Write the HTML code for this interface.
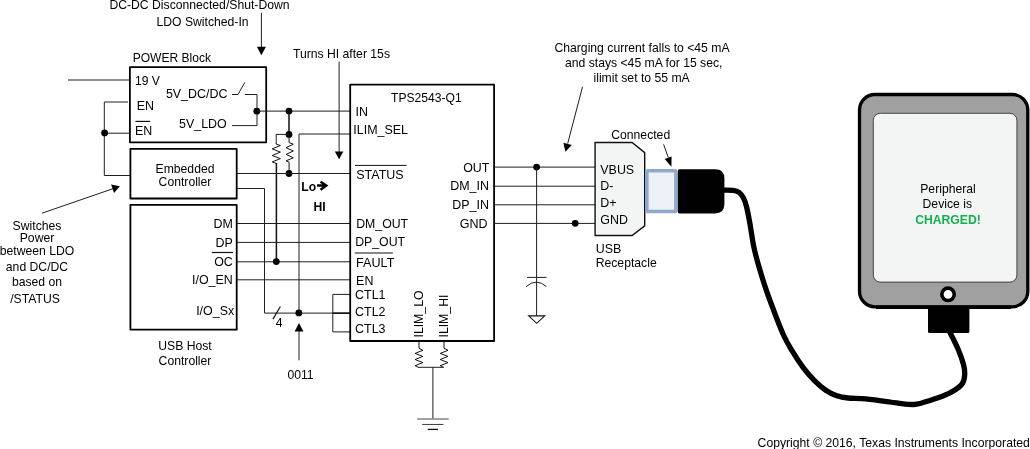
<!DOCTYPE html>
<html>
<head>
<meta charset="utf-8">
<title>TPS2543-Q1 Charging Diagram</title>
<style>
  html, body { margin: 0; padding: 0; background: #ffffff; }
  body { width: 1030px; height: 449px; overflow: hidden; }
  svg { display: block; will-change: transform; opacity: 0.9999; }
  text { font-family: "Liberation Sans", sans-serif; font-size: 12.2px; fill: #000; }
  .b { font-weight: bold; }
  .u { font-size: 12.45px; }
  .w { stroke: #1e1e1e; stroke-width: 1; fill: none; }
  .k { stroke: #111; stroke-width: 1.6; fill: none; }
  .box { stroke: #000; stroke-width: 1.8; fill: none; stroke-linejoin: round; }
  .dot { fill: #000; }
  .ah { fill: #000; }
</style>
</head>
<body>
<svg width="1030" height="449" viewBox="0 0 1030 449">
  <rect x="0" y="0" width="1030" height="449" fill="#ffffff"/>

  <!-- ===== top-left annotation ===== -->
  <text x="199.5" y="9.3" text-anchor="middle">DC-DC Disconnected/Shut-Down</text>
  <text x="202.5" y="26" text-anchor="middle">LDO Switched-In</text>
  <line class="w" x1="261.4" y1="12.8" x2="261.4" y2="48"/>
  <polygon class="ah" points="256.9,46.8 265.9,46.8 261.4,55.2"/>

  <!-- ===== POWER block ===== -->
  <text x="132.7" y="62.1" style="font-size:12.05px">POWER Block</text>
  <rect class="box" x="129.9" y="67.2" width="136.3" height="75.1"/>
  <line class="w" x1="68" y1="80" x2="130" y2="80"/>
  <text x="135" y="84.8" style="font-size:12.1px">19 V</text>
  <text class="u" x="136.8" y="110">EN</text>
  <text class="u" x="135" y="135">EN</text>
  <line class="k" x1="135.5" y1="121.4" x2="150.2" y2="121.4" style="stroke-width:1.2"/>
  <text class="u" x="165.9" y="98">5V_DC/DC</text>
  <text class="u" x="179" y="127.9">5V_LDO</text>
  <!-- switch -->
  <polyline class="w" points="232,94.5 238,94.5 244.8,82.4"/>
  <polyline class="w" points="244.8,94.5 257,94.5 257,125.6 232,125.6"/>
  <circle class="dot" cx="256.8" cy="111.2" r="3.4"/>

  <!-- EN loop -->
  <polyline class="w" points="128,102 104.3,102 104.3,175.5 130,175.5"/>
  <line class="w" x1="104.3" y1="133.2" x2="130" y2="133.2"/>
  <circle class="dot" cx="104.6" cy="132.9" r="3.4"/>

  <!-- ===== Embedded controller ===== -->
  <rect class="box" x="130.4" y="148.9" width="106.3" height="49.6"/>
  <text x="185" y="172.9" text-anchor="middle">Embedded</text>
  <text x="185" y="185.6" text-anchor="middle">Controller</text>

  <!-- ===== USB host controller ===== -->
  <rect class="box" x="130.4" y="204.8" width="106.3" height="124.9"/>
  <text class="u" x="232.8" y="227.8" text-anchor="end">DM</text>
  <text class="u" x="232.8" y="246.7" text-anchor="end">DP</text>
  <text class="u" x="232.8" y="266.2" text-anchor="end">OC</text>
  <line class="k" x1="211.8" y1="252.5" x2="233" y2="252.5" style="stroke-width:1.2"/>
  <text class="u" x="232.8" y="284.1" text-anchor="end">I/O_EN</text>
  <text class="u" x="234.2" y="314.8" text-anchor="end">I/O_Sx</text>
  <text x="185" y="350" text-anchor="middle">USB Host</text>
  <text x="185" y="365.1" text-anchor="middle">Controller</text>

  <!-- left annotation -->
  <text x="37" y="229.5" text-anchor="middle">Switches</text>
  <text x="37" y="242" text-anchor="middle">Power</text>
  <text x="37" y="254.8" text-anchor="middle">between LDO</text>
  <text x="37" y="270.7" text-anchor="middle">and DC/DC</text>
  <text x="37" y="285.8" text-anchor="middle">based on</text>
  <text x="35" y="302.6" text-anchor="middle">/STATUS</text>
  <line class="w" x1="42" y1="213.2" x2="113" y2="188.7"/>
  <polygon class="ah" points="119.9,186.2 111.1,184.6 114,193"/>

  <!-- ===== wires between left blocks and TPS ===== -->
  <line class="w" x1="257" y1="111.1" x2="350.5" y2="111.1"/>
  <circle class="dot" cx="289" cy="111.1" r="3.4"/>
  <line class="k" x1="289" y1="111.1" x2="289" y2="134.4" style="stroke-width:1.5"/>
  <circle class="dot" cx="289" cy="134.4" r="3.4"/>
  <!-- resistors -->
  <polyline class="w" points="289,134.4 276.2,134.4 276.2,144"/>
  <polyline class="k" style="stroke-width:1" points="276.3,143.5 276.3,144.2 280.4,145.5 272.2,148.9 280.4,152.1 272.2,155.5 280.4,158.6 272.2,161.9 276.3,163.4"/>
  <line class="k" x1="276.4" y1="163" x2="276.4" y2="261.4" style="stroke-width:1.5"/>
  <polyline class="k" style="stroke-width:1" points="289.1,134.4 289.1,142.6 293.3,144.2 286.1,147.7 293.3,151 286.1,154.4 293.3,157.8 286.1,160.8 289.1,162.2 289.1,173.5"/>
  <circle class="dot" cx="289" cy="173.5" r="3.4"/>

  <!-- ILIM_SEL -->
  <polyline class="w" points="350.5,134 299,134 299,313.1"/>
  <!-- STATUS -->
  <line class="w" x1="236.8" y1="173.5" x2="350.5" y2="173.5"/>
  <!-- Embedded 2nd output -->
  <polyline class="w" points="236.8,188.5 264.5,188.5 264.5,313.1 350.5,313.1"/>
  <!-- DM DP OC EN -->
  <line class="w" x1="236.8" y1="223.5" x2="350.5" y2="223.5"/>
  <line class="w" x1="236.8" y1="242.4" x2="350.5" y2="242.4"/>
  <line class="w" x1="236.8" y1="261.8" x2="350.5" y2="261.8"/>
  <line class="w" x1="236.8" y1="279.8" x2="350.5" y2="279.8"/>
  <circle class="dot" cx="276.3" cy="261.6" r="3.4"/>
  <circle class="dot" cx="298.8" cy="312.9" r="3.4"/>
  <!-- CTL bracket -->
  <polyline class="w" points="350.5,294.4 332.8,294.4 332.8,331.9 350.5,331.9"/>
  <line class="k" x1="332.8" y1="313.2" x2="350" y2="313.2" style="stroke-width:1.5"/>
  <!-- bus slash /4 -->
  <line class="k" x1="272.9" y1="319.1" x2="280.4" y2="306.5" style="stroke-width:1.2"/>
  <text x="275.7" y="327.2">4</text>
  <!-- 0011 arrow -->
  <line class="w" x1="299" y1="330" x2="299" y2="360.3"/>
  <polygon class="ah" points="299,323.1 294.6,331.5 303.4,331.5"/>
  <text x="300.5" y="379" text-anchor="middle">0011</text>

  <!-- Turns HI -->
  <text x="292.9" y="57.8">Turns HI after 15s</text>
  <line class="w" x1="339.1" y1="61.6" x2="339.1" y2="152"/>
  <polygon class="ah" points="334.8,151.6 343.4,151.6 339.1,159.2"/>
  <text class="b" x="301.3" y="190.9">Lo</text>
  <path d="M317,185.5 H325 M320.5,181.8 L326.4,185.5 L320.5,189.8" stroke="#000" stroke-width="2.3" fill="none" stroke-linejoin="miter"/>
  <text class="b" x="313.4" y="211.2">HI</text>

  <!-- ===== TPS2543-Q1 ===== -->
  <rect class="box" x="350.2" y="84.7" width="143.9" height="256.3"/>
  <text x="426.4" y="102" text-anchor="middle" style="font-size:12.1px">TPS2543-Q1</text>
  <text class="u" x="355.6" y="115.9">IN</text>
  <text class="u" x="353.3" y="134">ILIM_SEL</text>
  <line class="k" x1="355" y1="165.4" x2="406.6" y2="165.4" style="stroke-width:1"/>
  <text x="356.2" y="178.6" style="font-size:12.5px">STATUS</text>
  <text x="356.2" y="228.1" style="font-size:12.3px">DM_OUT</text>
  <text x="355.2" y="246.2" style="font-size:12.3px">DP_OUT</text>
  <line class="k" x1="354.8" y1="253" x2="392.9" y2="253" style="stroke-width:1.2"/>
  <text x="356.1" y="266.9" style="font-size:12.6px">FAULT</text>
  <text class="u" x="356.1" y="284.6">EN</text>
  <text class="u" x="355.1" y="299">CTL1</text>
  <text class="u" x="355.1" y="316.2">CTL2</text>
  <text class="u" x="355.1" y="332.6">CTL3</text>
  <text x="489.3" y="171.7" text-anchor="end" style="font-size:12.4px">OUT</text>
  <text x="488.9" y="189.9" text-anchor="end" style="font-size:12.45px">DM_IN</text>
  <text x="488.9" y="208.6" text-anchor="end" style="font-size:12.45px">DP_IN</text>
  <text x="487.5" y="227.8" text-anchor="end" style="font-size:12.5px">GND</text>
  <text transform="translate(423.4,337.5) rotate(-90)" style="font-size:12.25px">ILIM_LO</text>
  <text transform="translate(448.4,337.5) rotate(-90)" style="font-size:12.25px">ILIM_HI</text>

  <!-- bottom resistors + ground -->
  <polyline class="k" style="stroke-width:1" points="419,341 419,348.2 422.8,350.3 415.1,353.4 422.8,356.4 415.1,359.5 422.8,362.6 415.1,365.7 418.4,367.3"/>
  <polyline class="k" style="stroke-width:1" points="444,341 444,348.2 448,350.3 440.2,353.4 448,356.4 440.2,359.5 448,362.6 440.2,365.7 443.5,367.3"/>
  <line class="w" x1="418" y1="367.3" x2="443.8" y2="367.3"/>
  <line class="w" x1="432.9" y1="367.3" x2="432.9" y2="419"/>
  <line x1="417.1" y1="419" x2="448.7" y2="419" stroke="#8a8a8a" stroke-width="1.6"/>
  <line x1="422.2" y1="424.45" x2="443.4" y2="424.45" stroke="#3a3a3a" stroke-width="1"/>
  <line x1="427.7" y1="429.4" x2="438" y2="429.4" stroke="#111" stroke-width="1.3"/>

  <!-- ===== right side wires ===== -->
  <line class="w" x1="494.4" y1="167.1" x2="595.2" y2="167.1"/>
  <line class="w" x1="494.4" y1="186.2" x2="595.2" y2="186.2"/>
  <line class="w" x1="494.4" y1="204.8" x2="595.2" y2="204.8"/>
  <line class="w" x1="494.4" y1="223.4" x2="595.2" y2="223.4"/>
  <circle class="dot" cx="536.6" cy="167.1" r="3.4"/>
  <circle class="dot" cx="575.2" cy="223.3" r="3.4"/>
  <!-- capacitor + gnd -->
  <line class="w" x1="536.6" y1="167.1" x2="536.6" y2="315.9"/>
  <line class="w" x1="527" y1="277.4" x2="546.5" y2="277.4"/>
  <path class="w" d="M526.2,286.6 Q536.5,277.6 546.4,286.6"/>
  <polygon points="528.7,315.9 544.7,315.9 536.7,323.3" fill="#fff" stroke="#111" stroke-width="1.1"/>

  <!-- charging annotation -->
  <text x="642" y="52.2" text-anchor="middle">Charging current falls to &lt;45 mA</text>
  <text x="643.7" y="67.1" text-anchor="middle">and stays &lt;45 mA for 15 sec,</text>
  <text x="641.6" y="81.8" text-anchor="middle">ilimit set to 55 mA</text>
  <line class="w" x1="582.5" y1="86.8" x2="567.7" y2="143.5"/>
  <polygon class="ah" points="565.4,151.8 563.4,142.8 571.8,144.9"/>

  <text x="640.7" y="139.1" text-anchor="middle">Connected</text>
  <line class="w" x1="663.6" y1="144.4" x2="668.3" y2="157.6"/>
  <polygon class="ah" points="671.4,166.7 664.7,158.9 671.6,156.4"/>

  <!-- ===== USB receptacle ===== -->
  <polygon points="595.1,142.5 632.1,142.5 644.7,152.6 644.7,225.8 632.1,235.5 595.1,235.5" fill="#f3f5f4" stroke="#111" stroke-width="1.4"/>
  <text class="u" x="600.3" y="173.8">VBUS</text>
  <text class="u" x="600.3" y="190">D-</text>
  <text class="u" x="600.3" y="206.6">D+</text>
  <text class="u" x="600.3" y="224">GND</text>
  <text class="u" x="595.7" y="252.9">USB</text>
  <text x="595.7" y="267.3">Receptacle</text>

  <!-- plug -->
  <rect x="646.9" y="170.8" width="29" height="40.8" rx="1.2" fill="#ecf0f7" stroke="#90a8cc" stroke-width="3.5"/>
  <path d="M679.4,169.2 H715 Q724.4,169.2 724.4,178.6 V204 Q724.4,213.4 715,213.4 H679.4 Q677.8,213.4 677.8,211.8 V170.8 Q677.8,169.2 679.4,169.2 Z" fill="#000"/>

  <!-- cable -->
  <path d="M722.0,190.1 C723.8,190.1 730.2,189.9 733.0,190.3 C735.8,190.7 737.2,191.0 739.0,192.3 C740.8,193.6 742.2,195.6 743.5,198.0 C744.8,200.4 745.5,202.7 746.6,207.0 C747.7,211.3 748.7,216.8 750.0,224.0 C751.3,231.2 752.4,240.8 754.5,250.0 C756.6,259.2 759.8,269.8 762.8,279.5 C765.8,289.2 769.3,298.8 772.8,308.0 C776.2,317.2 780.2,327.8 783.5,335.0 C786.8,342.2 789.0,345.7 792.3,351.2 C795.6,356.7 799.7,363.0 803.4,367.9 C807.1,372.8 810.8,376.9 814.5,380.6 C818.2,384.3 822.0,387.7 825.7,390.2 C829.4,392.7 833.1,394.4 836.8,395.7 C840.5,397.0 843.2,397.5 848.0,398.0 C852.8,398.5 858.8,398.2 865.8,398.9 C872.8,399.6 883.5,401.1 890.0,402.0 C896.5,402.9 901.1,403.7 905.0,404.1 C908.9,404.5 910.8,404.6 913.5,404.5 C916.2,404.4 918.2,403.9 921.0,403.2 C923.8,402.5 926.4,401.6 930.1,400.4 C933.9,399.1 939.4,397.4 943.5,395.7 C947.6,394.0 951.5,392.2 954.6,390.2 C957.8,388.2 960.7,386.1 962.4,383.5 C964.1,380.9 964.5,377.8 964.7,374.6 C964.9,371.4 964.6,368.8 963.5,364.5 C962.4,360.2 960.3,354.4 958.0,349.0 C955.7,343.6 951.1,334.8 949.7,332.0"
        fill="none" stroke="#000" stroke-width="5.3" stroke-linecap="round" stroke-linejoin="round"/>

  <!-- ===== tablet ===== -->
  <rect x="859.5" y="94.5" width="168.3" height="212.3" rx="15.5" ry="15.5" fill="#a0a0a0" stroke="#000" stroke-width="3.3"/>
  <line x1="876" y1="307.2" x2="1011" y2="307.2" stroke="#000" stroke-width="3.4"/>
  <rect x="873.3" y="113.3" width="143.6" height="168.8" rx="7" ry="7" fill="#f3f5f4" stroke="#222" stroke-width="0.8"/>
  <text x="948" y="192.6" text-anchor="middle">Peripheral</text>
  <text x="947.3" y="207.7" text-anchor="middle">Device is</text>
  <text class="b" x="948" y="223.6" text-anchor="middle" style="fill:#12b04f">CHARGED!</text>
  <circle cx="948.05" cy="294.3" r="6.2" fill="#fff" stroke="#000" stroke-width="3.6"/>
  <rect x="928" y="306" width="41.4" height="27.05" rx="1.4" fill="#000"/>

  <!-- copyright -->
  <text x="1029.9" y="447" text-anchor="end">Copyright © 2016, Texas Instruments Incorporated</text>
</svg>
</body>
</html>
